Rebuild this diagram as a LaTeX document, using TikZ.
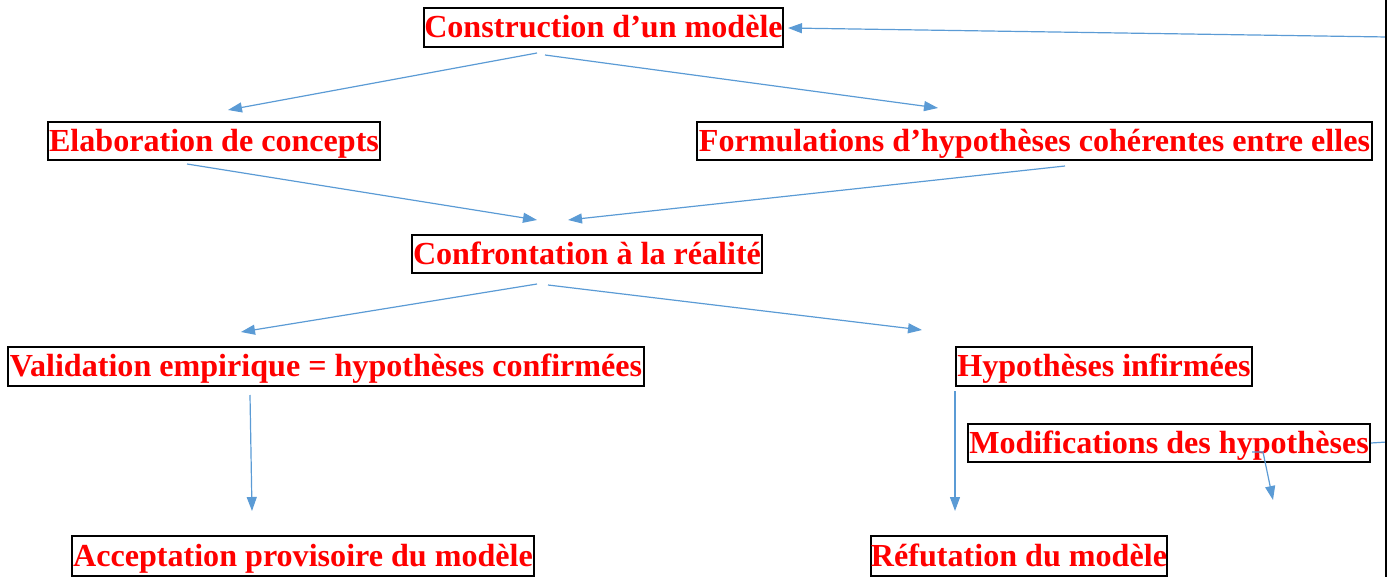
\documentclass[tikz,border=0pt]{standalone}
\usepackage{fontspec}
\setmainfont{Liberation Serif}
\usetikzlibrary{arrows.meta}
\definecolor{ablue}{HTML}{5B9BD5}
\definecolor{tred}{HTML}{FF0000}
\tikzset{
  box/.style={draw=black, line width=2pt, inner sep=0pt, text=tred,
    font=\fontsize{32.1}{36}\selectfont\bfseries, anchor=center,
    text height=28pt, text depth=7pt},
  conn/.style={draw=ablue, line width=1.2pt, -{Triangle[length=14pt,width=10pt]}},
  plain/.style={draw=ablue, line width=1.2pt}
}
\begin{document}
\begin{tikzpicture}[x=1pt,y=-1pt]
\useasboundingbox (0,0) rectangle (1387,577);
% nodes
\node[box, minimum width=359pt, minimum height=39pt] (cons) at (603.5,27.5) {Construction d’un modèle};
\node[box, minimum width=332pt, minimum height=38pt] (elab) at (214,141) {Elaboration de concepts};
\node[box, minimum width=675pt, minimum height=38pt] (form) at (1034.5,141) {Formulations d’hypothèses cohérentes entre elles};
\node[box, minimum width=350pt, minimum height=38pt] (conf) at (587,254) {Confrontation à la réalité};
\node[box, minimum width=636pt, minimum height=39pt] (vali) at (326,366.5) {Validation empirique = hypothèses confirmées};
\node[box, minimum width=296pt, minimum height=39pt] (infi) at (1104,366.5) {Hypothèses infirmées};
\node[box, minimum width=402pt, minimum height=38pt] (modi) at (1169,443) {Modifications des hypothèses};
\node[box, minimum width=462pt, minimum height=40pt] (acce) at (303,556) {Acceptation provisoire du modèle};
\node[box, minimum width=296pt, minimum height=40pt] (refu) at (1019,556) {Réfutation du modèle};
% coordinates
\coordinate (c1s) at (537,53);  \coordinate (c1e) at (228,110);
\coordinate (c2s) at (545,55);  \coordinate (c2e) at (938,108);
\coordinate (c3s) at (187,164); \coordinate (c3e) at (537,220);
\coordinate (c4s) at (1065,166);\coordinate (c4e) at (568,220);
\coordinate (c5s) at (537,284); \coordinate (c5e) at (241,332);
\coordinate (c6s) at (548,285); \coordinate (c6e) at (922,330);
\coordinate (c7s) at (250,395); \coordinate (c7e) at (252,511);
\coordinate (c8s) at (955,391); \coordinate (c8e) at (955,511);
\coordinate (c9s) at (1252,452); \coordinate (c9m) at (1263,452); \coordinate (c9e) at (1273,500);
\coordinate (r1) at (1387,442); \coordinate (r2) at (1387,37); \coordinate (c10e) at (788,28);
\coordinate (vt) at (1386,0); \coordinate (vb) at (1386,577);
% connectors
\draw[conn] (c1s) -- (c1e);
\draw[conn] (c2s) -- (c2e);
\draw[conn] (c3s) -- (c3e);
\draw[conn] (c4s) -- (c4e);
\draw[conn] (c5s) -- (c5e);
\draw[conn] (c6s) -- (c6e);
\draw[conn] (c7s) -- (c7e);
\draw[conn] (c8s) -- (c8e);
\draw[conn] (c9s) -- (c9m) -- (c9e);
\draw[plain] (modi.east) -- (r1);
\draw[conn] (r2) -- (c10e);
\draw[black, line width=1.2pt] (vt) -- (vb);
\end{tikzpicture}
\end{document}
